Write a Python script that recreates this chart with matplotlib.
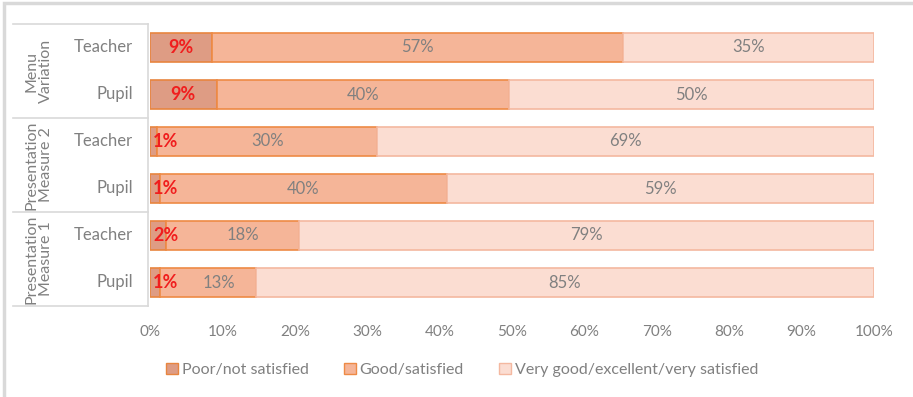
import matplotlib
matplotlib.use("Agg")
import matplotlib.pyplot as plt
from matplotlib.patches import Rectangle, Patch
from matplotlib.lines import Line2D

plt.rcParams['font.family'] = ['Lato', 'DejaVu Sans']

groups = ["Presentation\nMeasure 1", "Presentation\nMeasure 2", "Menu\nVariation"]
subcats = ["Pupil", "Teacher", "Pupil", "Teacher", "Pupil", "Teacher"]  # bottom to top
poor = [1.4, 2.2, 1.4, 1.0, 9.2, 8.6]
good = [13.2, 18.4, 39.6, 30.4, 40.4, 56.7]
vgood = [85.4, 79.4, 59.0, 68.6, 50.4, 34.7]
poor_lbl = ["1%", "2%", "1%", "1%", "9%", "9%"]
good_lbl = ["13%", "18%", "40%", "30%", "40%", "57%"]
vgood_lbl = ["85%", "79%", "59%", "69%", "50%", "35%"]
series_names = ["Poor/not satisfied", "Good/satisfied", "Very good/excellent/very satisfied"]
xticks = [0, 10, 20, 30, 40, 50, 60, 70, 80, 90, 100]

W, H = 913, 397
fig = plt.figure(figsize=(W / 100, H / 100), dpi=100)

# outer frame
fig.add_artist(Rectangle((4 / W, -0.1), 1.1, (H - 3) / H + 0.1, transform=fig.transFigure,
                         fill=False, edgecolor="#D9D9D9", linewidth=2.5))

ax_l, ax_r = 150 / W, 874 / W
ax_top, ax_bot = 24 / H, 306 / H
ax = fig.add_axes([ax_l, 1 - ax_bot, ax_r - ax_l, ax_bot - ax_top])

c_poor, c_good, c_vg = "#DE9C84", "#F5B598", "#FBDDD2"
e_poor, e_good, e_vg = "#E8853F", "#EE8A45", "#F4B8A0"
gray = "#808080"

y = list(range(len(subcats)))
h = 0.6
ax.barh(y, poor, height=h, color=c_poor, edgecolor=e_poor, linewidth=1.2)
ax.barh(y, good, left=poor, height=h, color=c_good, edgecolor=e_good, linewidth=1.2)
left2 = [p + g for p, g in zip(poor, good)]
ax.barh(y, vgood, left=left2, height=h, color=c_vg, edgecolor=e_vg, linewidth=1.2)

for i in y:
    px = max(poor[i] / 2, 2.2)
    ax.text(px, i, poor_lbl[i], ha="center", va="center", color="#F01E1E",
            fontweight="bold", fontsize=13)
    gx = poor[i] + good[i] / 2
    if good[i] < 20:
        gx = poor[i] + good[i] / 2 + 1.5
    ax.text(gx, i, good_lbl[i], ha="center", va="center", color=gray, fontsize=12)
    ax.text(left2[i] + vgood[i] / 2, i, vgood_lbl[i], ha="center", va="center",
            color=gray, fontsize=12)

ax.set_xlim(0, 100)
ax.set_ylim(-0.5, len(subcats) - 0.5)
ax.set_xticks(xticks)
ax.set_xticklabels([f"{t}%" for t in xticks], color=gray, fontsize=11)
ax.set_yticks([])
ax.tick_params(axis="x", length=0, pad=14)
for s in ax.spines.values():
    s.set_visible(False)

# category table on left
tcol = "#D9D9D9"
for yy in [24, 118, 212, 306]:
    fig.add_artist(Line2D([13 / W, 148 / W], [1 - yy / H, 1 - yy / H], color=tcol, lw=1.2))
fig.add_artist(Line2D([148 / W, 148 / W], [1 - 24 / H, 1 - 306 / H], color=tcol, lw=1.2))
for i, lab in enumerate(subcats):
    ax.text(-0.023, i, lab, transform=ax.get_yaxis_transform(), ha="right", va="center",
            color=gray, fontsize=12)
for gi, g in enumerate(groups):
    yc = 2 * gi + 0.5
    ax.text(-111 / 724, yc, g, transform=ax.get_yaxis_transform(), ha="center", va="center",
            rotation=90, color=gray, fontsize=11.5, linespacing=1.05)

handles = [Patch(facecolor=c_poor, edgecolor=e_poor), Patch(facecolor=c_good, edgecolor=e_good),
           Patch(facecolor=c_vg, edgecolor=e_vg)]
leg = fig.legend(handles, series_names, loc="center", bbox_to_anchor=(462 / W, 1 - 370 / H),
                 ncol=3, frameon=False, fontsize=11.5, handlelength=0.75, handleheight=0.75,
                 handletextpad=0.25, columnspacing=2.2)
for t in leg.get_texts():
    t.set_color(gray)

fig.savefig("out.png", dpi=100)
